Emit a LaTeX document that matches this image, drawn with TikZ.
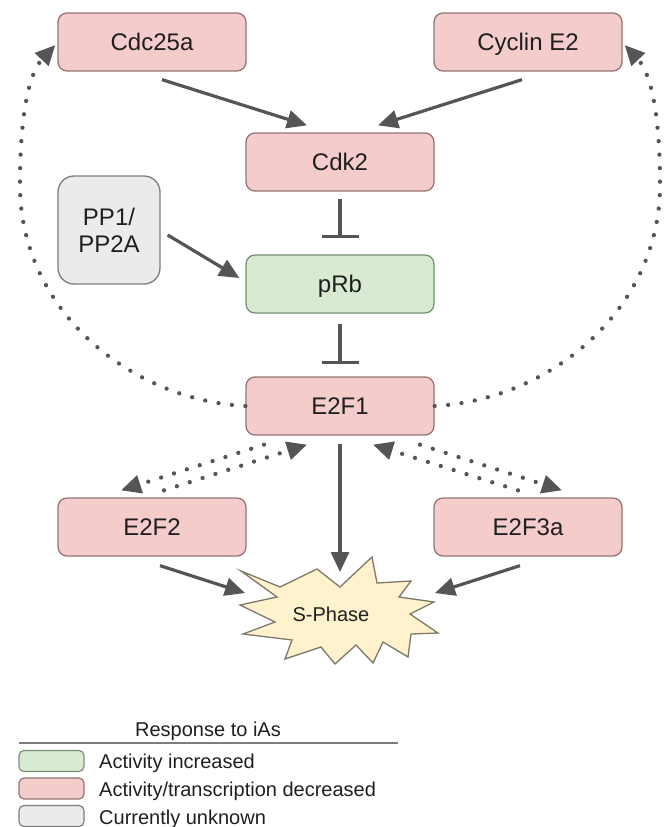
\documentclass[tikz,border=0pt]{standalone}
\usepackage{fontspec}
\setmainfont{Liberation Sans}
\usetikzlibrary{arrows.meta,calc}
\definecolor{pinkfill}{HTML}{F4CCCC}
\definecolor{pinkline}{RGB}{150,115,115}
\definecolor{greenfill}{HTML}{D9EAD3}
\definecolor{greenline}{RGB}{120,145,115}
\definecolor{grayfill}{HTML}{EBEBEB}
\definecolor{grayline}{RGB}{125,125,125}
\definecolor{starfill}{HTML}{FFF2CC}
\definecolor{starline}{RGB}{125,120,105}
\definecolor{arrcol}{HTML}{555555}
\definecolor{txt}{HTML}{1F1F1F}
\begin{document}
\begin{tikzpicture}[x=1pt,y=-1pt,
  box/.style={rounded corners=9pt, minimum width=188pt, minimum height=58pt, inner sep=0pt,
    line width=1.3pt, font=\fontsize{24}{28}\selectfont, text=txt, text height=17pt, text depth=0pt},
  redbox/.style={box, draw=pinkline, fill=pinkfill},
  greenbox/.style={box, draw=greenline, fill=greenfill},
  graybox/.style={rounded corners=16pt, minimum width=102pt, minimum height=108pt, inner sep=0pt,
    line width=1.3pt, font=\fontsize{24}{27}\selectfont, text=txt, align=center, draw=grayline, fill=grayfill},
  tip/.style={-{Triangle[length=20pt,width=18pt]}},
  arr/.style={draw=arrcol, line width=3.2pt, tip},
  inh/.style={draw=arrcol, line width=3.2pt, -{Bar[width=37pt]}},
  dotarr/.style={draw=arrcol, line width=4.3pt, line cap=round, dash pattern=on 0pt off 13.5pt, tip},
  swatch/.style={rounded corners=5pt, minimum width=65pt, minimum height=21pt, inner sep=0pt, line width=1.2pt},
  legtext/.style={anchor=base west, inner sep=0pt, font=\fontsize{20}{24}\selectfont, text=txt},
]
\useasboundingbox (0,0) rectangle (664,827);

% nodes
\node[redbox] (cdc) at (152,42) {Cdc25a};
\node[redbox] (cyc) at (528,42) {Cyclin E2};
\node[redbox] (cdk) at (340,162) {Cdk2};
\node[graybox] (pp) at (109,230) {PP1/\\PP2A};
\node[greenbox] (prb) at (340,284) {pRb};
\node[redbox] (e2f1) at (340,406) {E2F1};
\node[redbox] (e2f2) at (152,527) {E2F2};
\node[redbox] (e2f3) at (528,527) {E2F3a};

% S-Phase star
\draw[fill=starfill, draw=starline, line width=1.3pt, line join=miter]
  (241,571) -- (280,587) -- (317,569) -- (340,587) -- (372,557) -- (377,583) -- (411,581)
  -- (399,597) -- (434,602) -- (410,614) -- (438,633) -- (411,634) -- (408,657) -- (383,642)
  -- (373,663) -- (356,645) -- (335,664) -- (321,647) -- (285,659) -- (292,640) -- (243,634)
  -- (275,622) -- (240,605) -- (277,597) -- cycle;
\node[inner sep=0pt, font=\fontsize{20}{24}\selectfont, text=txt] (sph) at (331,614) {S-Phase};
\coordinate (sTop) at (340,572);
\coordinate (sLeft) at (245,593);
\coordinate (sRight) at (435,593);

% solid arrows
\draw[arr] ($(cdc.south)+(10,8)$) -- ($(cdk.north)+(-33,-7)$);
\draw[arr] ($(cyc.south)+(-6,8)$) -- ($(cdk.north)+(38,-7)$);
\draw[arr] ($(pp.east)+(7,5)$) -- ($(prb.west)+(-6,-6)$);
\draw[inh] ($(cdk.south)+(0,7)$) -- ($(prb.north)+(0,-16)$);
\draw[inh] ($(prb.south)+(0,10)$) -- ($(e2f1.north)+(0,-12)$);
\draw[arr] ($(e2f1.south)+(0,8)$) -- (sTop);
\draw[arr] ($(e2f2.south)+(8,9)$) -- (sLeft);
\draw[arr] ($(e2f3.south)+(-8,9)$) -- (sRight);

% dotted arrows
\draw[dotarr] (e2f1.west) .. controls (130,400) and (20,310) .. (20,185)
  .. controls (20,110) and (30,72) .. ($(cdc.west)+(-2,3)$);
\draw[dotarr] (e2f1.east) .. controls (550,400) and (660,310) .. (660,185)
  .. controls (660,110) and (650,72) .. ($(cyc.east)+(2,3)$);
\draw[dotarr] ($(e2f1.south)+(-76,9)$) -- ($(e2f2.north)+(-31,-7)$);
\draw[dotarr] ($(e2f2.north)+(12,-7)$) -- ($(e2f1.south)+(-33,9)$);
\draw[dotarr] ($(e2f3.north)+(-10,-7)$) -- ($(e2f1.south)+(33,9)$);
\draw[dotarr] ($(e2f1.south)+(80,9)$) -- ($(e2f3.north)+(34,-7)$);

% legend
\node[inner sep=0pt, anchor=base, font=\fontsize{20}{24}\selectfont, text=txt] (legtitle) at (208,736) {Response to iAs};
\coordinate (ruleL) at (19,743);
\coordinate (ruleR) at (398,743);
\draw[draw=grayline, line width=1.5pt] (ruleL) -- (ruleR);
\node[swatch, draw=greenline, fill=greenfill] (sw1) at (51.5,761) {};
\node[swatch, draw=pinkline, fill=pinkfill] (sw2) at (51.5,788.5) {};
\node[swatch, draw=grayline, fill=grayfill] (sw3) at (51.5,816) {};
\node[legtext] (l1) at (99,768) {Activity increased};
\node[legtext] (l2) at (99,796) {Activity/transcription decreased};
\node[legtext] (l3) at (99,824) {Currently unknown};
\end{tikzpicture}
\end{document}
